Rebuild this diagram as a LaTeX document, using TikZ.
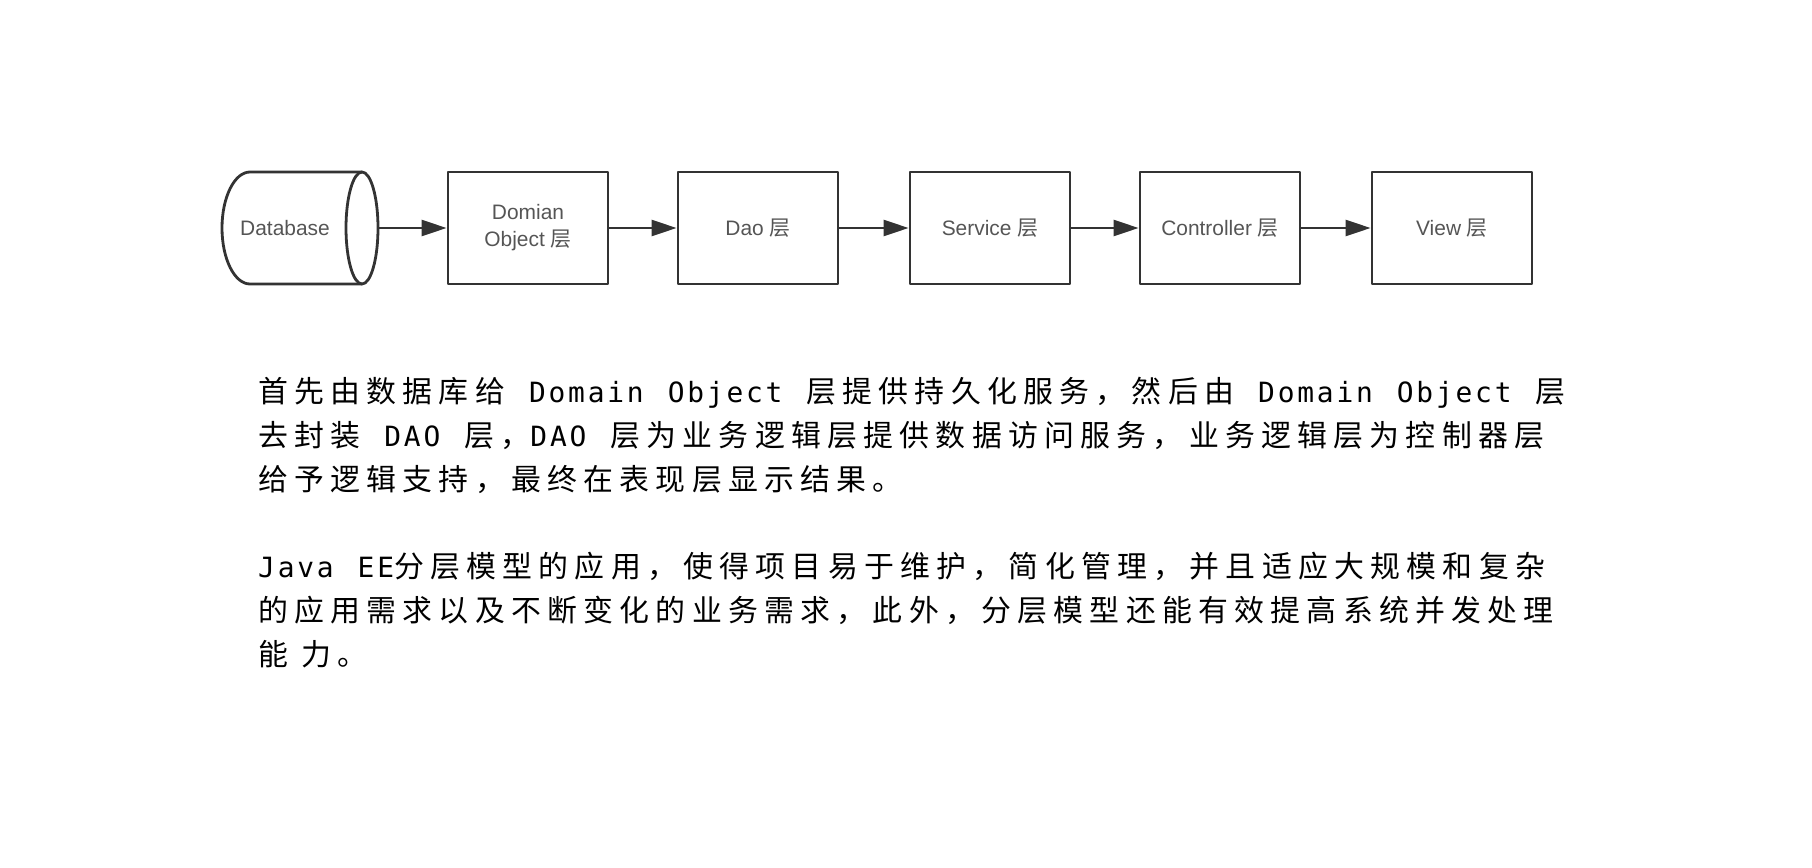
\documentclass[tikz,border=0pt]{standalone}
\usepackage{fontspec}
\setmainfont{Liberation Sans}
\setmonofont[LetterSpace=10]{DejaVu Sans Mono}
\newfontfamily\cjk[LetterSpace=21]{Noto Sans CJK SC}
\newfontfamily\cjkbox{Noto Sans CJK SC}
\usetikzlibrary{arrows.meta}
\definecolor{edge}{HTML}{333333}
\definecolor{label}{HTML}{555555}
\newcommand\ceng{{\cjkbox 层}}
\newcommand\gap{\hspace{24bp}}
\newcommand\en[1]{{\ttfamily\fontsize{28}{44}\selectfont#1}}
\begin{document}
\begin{tikzpicture}[x=1bp,y=1bp,>={Triangle[length=25bp,width=16bp]}, line join=round]
\tikzset{
  layer/.style={draw=edge, line width=2.8bp, minimum width=160bp, minimum height=112bp, inner sep=0pt, align=center, text=label, font=\fontsize{21}{27}\selectfont},
  store/.style={layer, draw=none, outer sep=0pt, minimum width=156bp},
  flow/.style={->, draw=edge, line width=2.4bp},
  para/.style={anchor=base west, inner sep=0pt, font=\fontsize{30}{44}\selectfont\cjk},
}
\fill[white] (0,0) rectangle (1812,-868);
% layers
\node[store] (db) at (300,-228) {Database\kern30bp};
\draw[draw=edge, line width=2.8bp] ([xshift=-16bp]db.east) ellipse [x radius=16bp, y radius=56bp];
\draw[draw=edge, line width=2.8bp] ([xshift=-16bp]db.north east) -- ([xshift=28bp]db.north west)
  arc[start angle=90, end angle=270, x radius=28bp, y radius=56bp] -- ([xshift=-16bp]db.south east);
\node[layer] (dom) at (528,-228) {Domian\\Object \ceng};
\node[layer] (dao) at (758,-228) {Dao \ceng};
\node[layer] (svc) at (990,-228) {Service \ceng};
\node[layer] (ctl) at (1220,-228) {Controller \ceng};
\node[layer] (view) at (1452,-228) {View \ceng};
\draw[flow] (db) -- (dom);
\draw[flow] (dom) -- (dao);
\draw[flow] (dao) -- (svc);
\draw[flow] (svc) -- (ctl);
\draw[flow] (ctl) -- (view);
% text
\node[para] (p1a) at (258,-402) {首先由数据库给\gap\en{Domain\gap Object}\gap 层提供持久化服务，然后由\gap\en{Domain\gap Object}\gap 层};
\node[para] (p1b) at (258,-446) {去封装\gap\en{DAO}\gap 层，\en{DAO}\gap 层为业务逻辑层提供数据访问服务，业务逻辑层为控制器层};
\node[para] (p1c) at (258,-490) {给予逻辑支持，最终在表现层显示结果。};
\node[para] (p2a) at (258,-577) {\en{Java\gap EE}分层模型的应用，使得项目易于维护，简化管理，并且适应大规模和复杂};
\node[para] (p2b) at (258,-621) {的应用需求以及不断变化的业务需求，此外，分层模型还能有效提高系统并发处理};
\node[para] (p2c) at (258,-665) {能 力。};
\end{tikzpicture}
\end{document}
